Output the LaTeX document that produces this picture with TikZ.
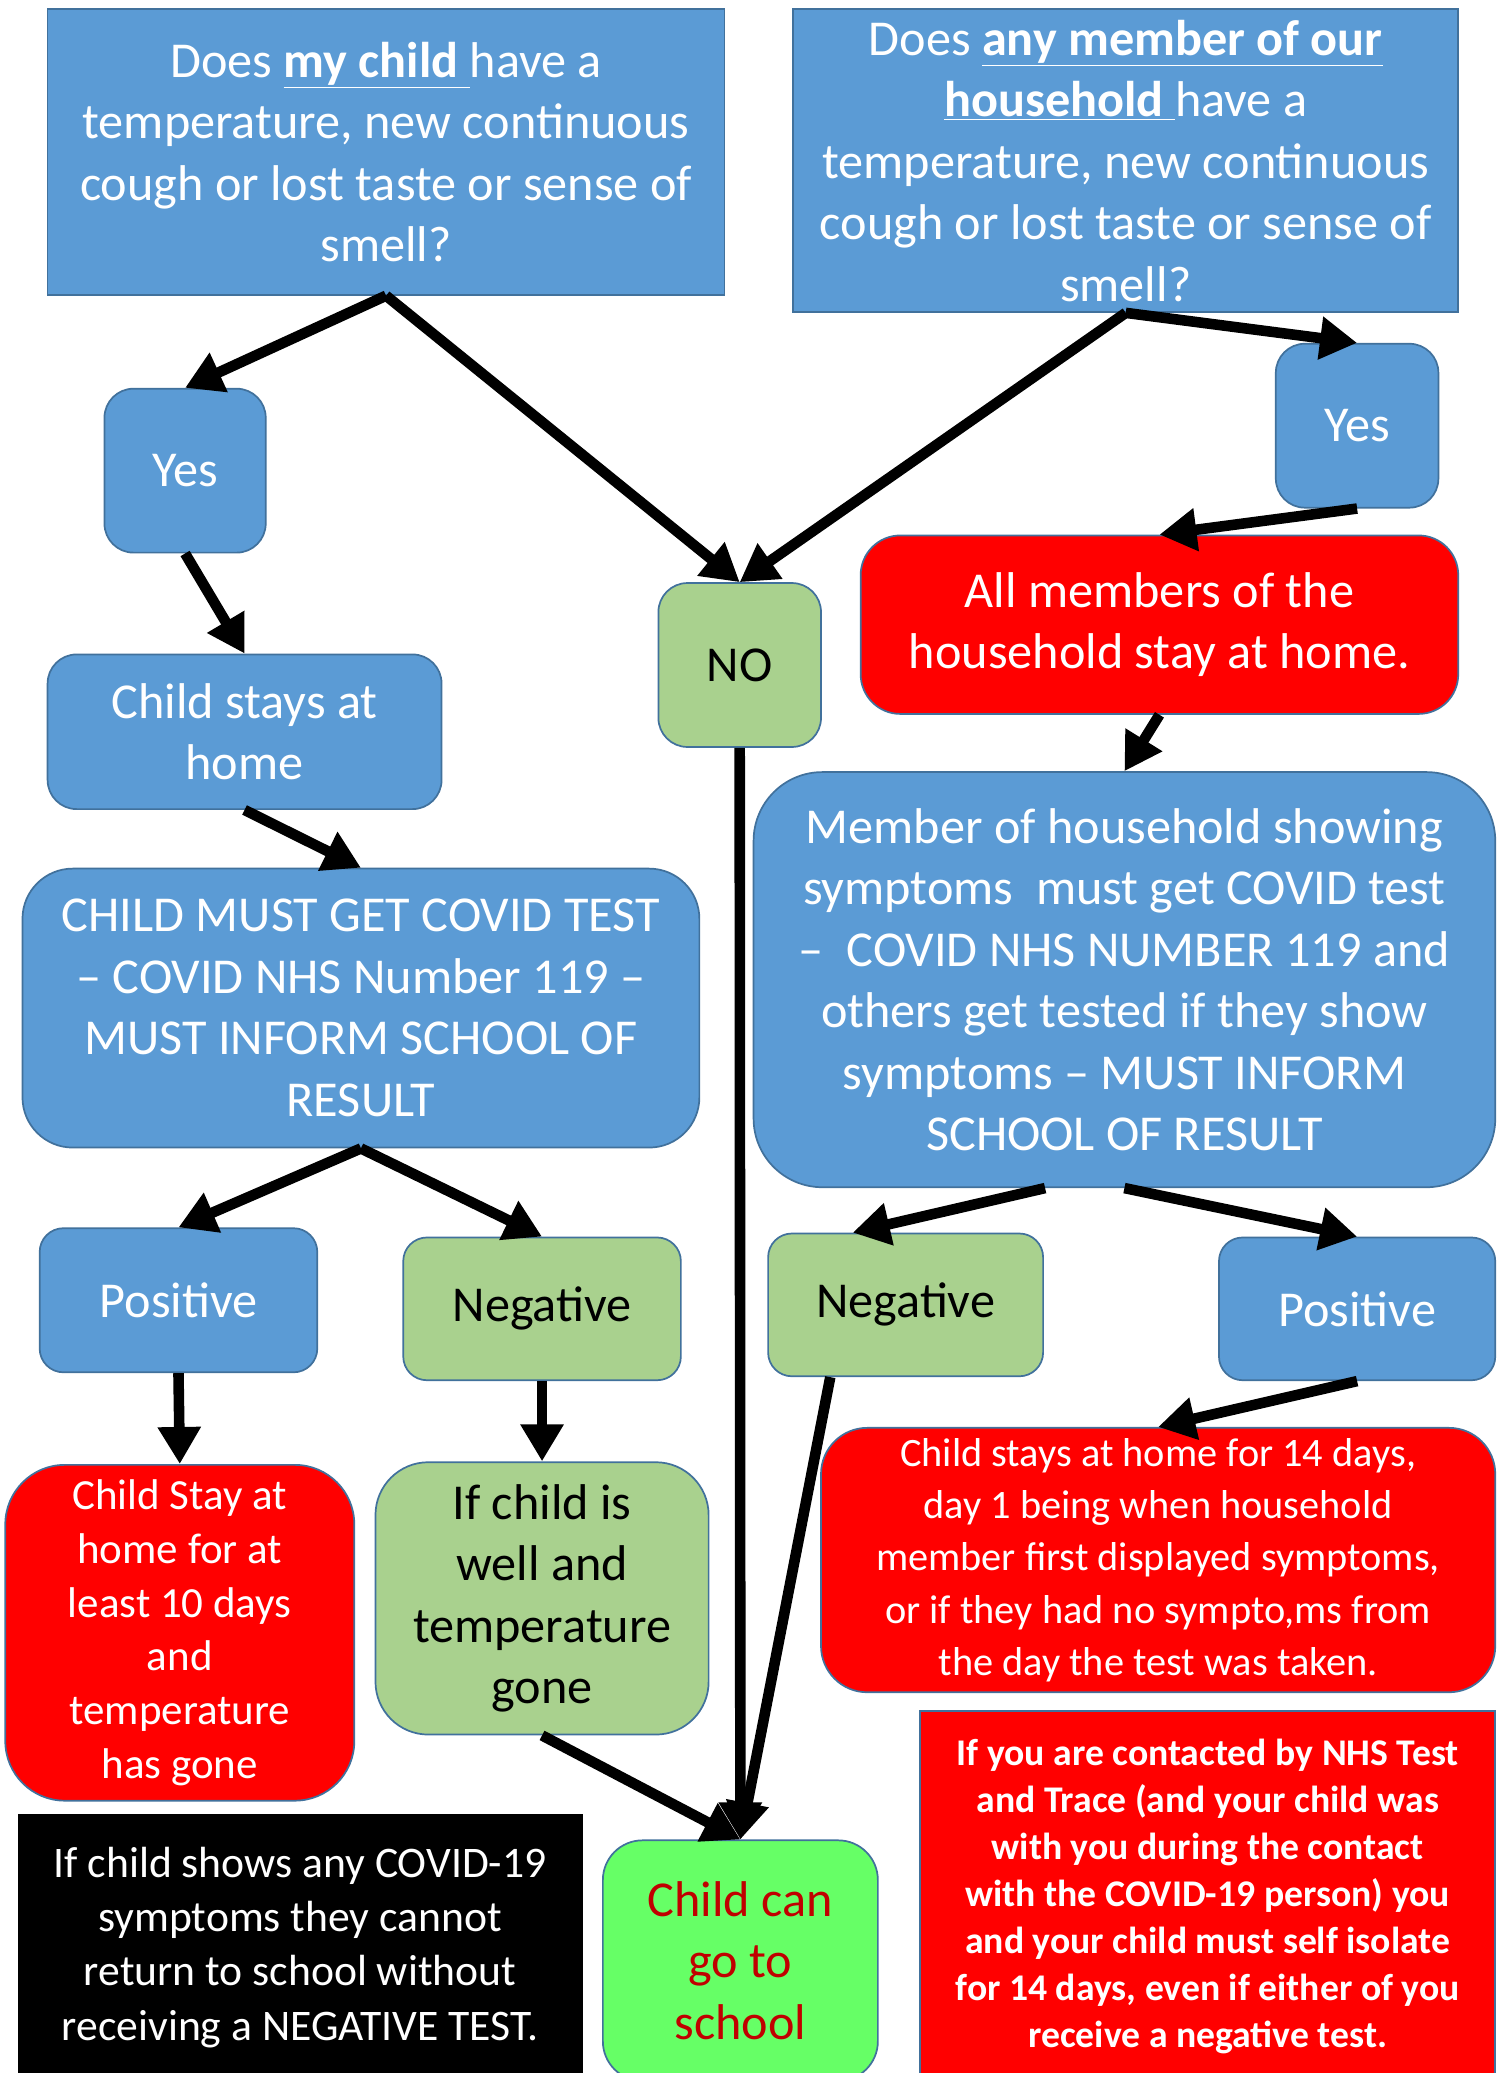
\documentclass[tikz,border=0pt]{standalone}
\usepackage{fontspec}
\setmainfont{Carlito}
\usetikzlibrary{arrows.meta}
\definecolor{ob}{HTML}{5B9BD5}
\definecolor{obd}{HTML}{41719C}
\definecolor{og}{HTML}{A9D18E}
\definecolor{lg}{HTML}{66FF66}
\definecolor{dr}{HTML}{C00000}
\begin{document}
\begin{tikzpicture}[x=1pt,y=-1pt,
 base/.style={draw=obd, line width=1.3pt, align=center, inner sep=0pt, font=\fontsize{38}{46.5}\selectfont},
 bluebox/.style={base, fill=ob, text=white},
 greenbox/.style={base, fill=og, text=black},
 redbox/.style={base, fill=red, text=white},
 arr/.style={line width=8pt, -{Triangle[length=28pt,width=31pt]}}]
\clip (0,0) rectangle (1139,1568);
\fill[white] (0,0) rectangle (1139,1568);

% top questions
\node[bluebox, minimum width=512pt, minimum height=216pt] (A) at (292,115)
 {Does \underline{\textbf{my child }}have a\\temperature, new continuous\\cough or lost taste or sense of\\smell?};
\node[bluebox, minimum width=503pt, minimum height=229pt] (B) at (851.5,121.5)
 {Does \underline{\textbf{any member of our}}\\\underline{\textbf{household }}have a\\temperature, new continuous\\cough or lost taste or sense of\\smell?};

\node[bluebox, rounded corners=22pt, minimum width=122pt, minimum height=124pt] (C) at (140,356) {Yes};
\node[bluebox, rounded corners=22pt, minimum width=123pt, minimum height=124pt] (D) at (1026.5,322) {Yes};
\node[greenbox, rounded corners=22pt, minimum width=123pt, minimum height=124pt] (E) at (559.5,503) {NO};

\node[bluebox, rounded corners=22pt, minimum width=298pt, minimum height=117pt] (F) at (185,553.5) {Child stays at\\home};
\node[redbox, rounded corners=30pt, minimum width=452pt, minimum height=135pt] (G) at (877,472.5) {All members of the\\household stay at home.};

\node[bluebox, rounded corners=38pt, minimum width=512pt, minimum height=211pt] (H) at (273,762.5)
 {CHILD MUST GET COVID TEST\\– COVID NHS Number 119 –\\MUST INFORM SCHOOL OF\\RESULT};
\node[bluebox, rounded corners=52pt, minimum width=561pt, minimum height=314pt] (I) at (850.5,741)
 {Member of household showing\\symptoms\ \ must get COVID test\\–\ \ COVID NHS NUMBER 119 and\\others get tested if they show\\symptoms – MUST INFORM\\SCHOOL OF RESULT};

\node[bluebox, rounded corners=18pt, minimum width=210pt, minimum height=109pt] (J) at (135,983.5) {Positive};
\node[greenbox, rounded corners=18pt, minimum width=210pt, minimum height=108pt] (K) at (410,990) {Negative};
\node[greenbox, rounded corners=18pt, minimum width=208pt, minimum height=108pt] (L) at (685,987) {Negative};
\node[bluebox, rounded corners=18pt, minimum width=209pt, minimum height=108pt] (M) at (1026.5,990) {Positive};

\node[redbox, rounded corners=45pt, minimum width=264pt, minimum height=254pt, font=\fontsize{32.5}{40.8}\selectfont] (N) at (136,1235)
 {Child Stay at\\home for at\\least 10 days\\and\\temperature\\has gone};
\node[greenbox, rounded corners=40pt, minimum width=252pt, minimum height=206pt] (O) at (410,1209)
 {If child is\\well and\\temperature\\gone};
\node[redbox, rounded corners=35pt, minimum width=510pt, minimum height=200pt, font=\fontsize{30.5}{39.5}\selectfont] (P) at (876,1180)
 {Child stays at home for 14 days,\\day 1 being when household\\member first displayed symptoms,\\or if they had no sympto,ms from\\the day the test was taken.};

\node[base, draw=black, fill=black, text=white, minimum width=426pt, minimum height=200pt, font=\fontsize{33}{41}\selectfont] (Q) at (227,1473)
 {If child shows any COVID-19\\symptoms they cannot\\return to school without\\receiving a NEGATIVE TEST.};
\node[base, fill=lg, text=dr, rounded corners=30pt, minimum width=208pt, minimum height=182pt] (R) at (560,1483)
 {Child can\\go to\\school};
\node[redbox, minimum width=435pt, minimum height=281pt, font=\bfseries\fontsize{28.5}{35.6}\selectfont] (S) at (913.5,1434.5)
 {If you are contacted by NHS Test\\and Trace (and your child was\\with you during the contact\\with the COVID-19 person) you\\and your child must self isolate\\for 14 days, even if either of you\\receive a negative test.};

% connectors
\draw[arr] (A.south) -- (C.north);
\draw[arr] (A.south) -- (E.north);
\draw[arr] (B.south) -- (E.north);
\draw[arr] (B.south) -- (D.north);
\draw[arr] (D.south) -- (G.north);
\draw[arr] (C.south) -- (F.north);
\draw[arr] (G.south) -- (I.north);
\draw[arr] (F.south) -- (H.north);
\draw[arr] (E.south) -- (R.north);
\draw[arr] (H.south) -- (J.north);
\draw[arr] (H.south) -- (K.north);
\draw[arr] ([xshift=-60pt]I.south) -- ([xshift=-40pt]L.north);
\draw[arr] (I.south) -- (M.north);
\draw[arr] (J.south) -- (N.north);
\draw[arr] (K.south) -- (O.north);
\draw[arr] ([xshift=-57pt]L.south) -- (R.north);
\draw[arr] (M.south) -- (P.north);
\draw[arr] (O.south) -- (R.north);
\end{tikzpicture}
\end{document}
